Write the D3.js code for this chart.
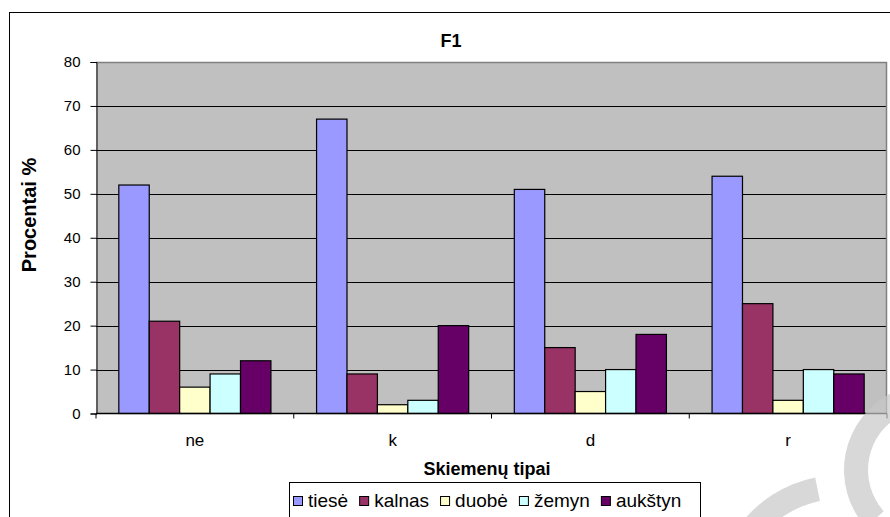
<!DOCTYPE html>
<html>
<head>
<meta charset="utf-8">
<script src="https://cdn.jsdelivr.net/npm/d3@7"></script>
<style>
  html, body { margin: 0; padding: 0; background: #fff; }
  svg { display: block; font-family: "Liberation Sans", Arial, sans-serif; }
</style>
</head>
<body>
<svg id="chart" width="890" height="517"></svg>
<script>
// Syllable types (categories) and series
const categories = ["ne", "k", "d", "r"];
const seriesNames = ["tiesė", "kalnas", "duobė", "žemyn", "aukštyn"];
const tiese   = [52, 67, 51, 54];
const kalnas  = [21, 9, 15, 25];
const duobe   = [6, 2, 5, 3];
const zemyn   = [9, 3, 10, 10];
const aukstyn = [12, 20, 18, 9];
const yTicks  = [0, 10, 20, 30, 40, 50, 60, 70, 80];
const colors  = ["#9999FF", "#993366", "#FFFFCC", "#CCFFFF", "#660066"];

const seriesValues = [tiese, kalnas, duobe, zemyn, aukstyn];
const rows = categories.map((c, i) => ({
  cat: c,
  vals: seriesNames.map((s, j) => ({ key: s, value: seriesValues[j][i] }))
}));

const svg = d3.select("#chart");

// outer chart frame
svg.append("rect")
  .attr("x", 9.5).attr("y", 12.5)
  .attr("width", 900).attr("height", 540)
  .attr("fill", "#fff").attr("stroke", "#000").attr("stroke-width", 1);

const plot = { left: 96, right: 887, top: 62, bottom: 413.5 };

const x = d3.scaleBand().domain(categories).range([plot.left, plot.right]).padding(0);
const xs = d3.scaleBand().domain(seriesNames).range([0, x.bandwidth()])
  .paddingInner(0).paddingOuter(0.75);
const y = d3.scaleLinear().domain([0, 80]).range([plot.bottom, plot.top]);
const color = d3.scaleOrdinal().domain(seriesNames).range(colors);

// plot background
svg.append("rect")
  .attr("x", plot.left).attr("y", plot.top)
  .attr("width", plot.right - plot.left).attr("height", plot.bottom - plot.top)
  .attr("fill", "#C0C0C0");

// gridlines
svg.append("g")
  .selectAll("line")
  .data(yTicks.filter(t => t > 0 && t < 80))
  .join("line")
  .attr("x1", plot.left).attr("x2", plot.right)
  .attr("y1", d => Math.round(y(d)) + 0.5).attr("y2", d => Math.round(y(d)) + 0.5)
  .attr("stroke", "#000").attr("stroke-width", 1);

// grey top and right edges of the plot area
svg.append("path")
  .attr("d", `M${plot.left},${plot.top + 0.5}H${plot.right - 0.5}V${plot.bottom}`)
  .attr("fill", "none").attr("stroke", "#808080").attr("stroke-width", 1.5);

// bars
svg.append("g")
  .selectAll("g")
  .data(rows)
  .join("g")
  .attr("transform", d => `translate(${x(d.cat)},0)`)
  .selectAll("rect")
  .data(d => d.vals)
  .join("rect")
  .attr("x", d => xs(d.key))
  .attr("y", d => y(d.value))
  .attr("width", xs.bandwidth())
  .attr("height", d => y(0) - y(d.value))
  .attr("fill", d => color(d.key))
  .attr("stroke", "#000").attr("stroke-width", 1.2);

// y axis
const yAxis = svg.append("g")
  .attr("transform", `translate(${plot.left + 0.5},0)`)
  .call(d3.axisLeft(y).tickValues(yTicks).tickSize(6).tickPadding(10));
yAxis.select(".domain").attr("stroke", "#000");
yAxis.selectAll("text")
  .attr("font-size", 15).attr("fill", "#000")
  .attr("font-family", "Liberation Sans, Arial, sans-serif");

// x axis with ticks at category boundaries
const xAxis = svg.append("g").attr("transform", `translate(0,${plot.bottom})`);
xAxis.append("line")
  .attr("x1", plot.left).attr("x2", plot.right)
  .attr("stroke", "#000").attr("stroke-width", 1.5);
const bounds = categories.map(c => x(c)).concat([plot.right]);
xAxis.selectAll("line.tick")
  .data(bounds)
  .join("line")
  .attr("class", "tick")
  .attr("x1", d => d).attr("x2", d => d)
  .attr("y1", 0).attr("y2", 5)
  .attr("stroke", "#000");
xAxis.selectAll("text")
  .data(categories)
  .join("text")
  .attr("x", d => x(d) + x.bandwidth() / 2)
  .attr("y", 32)
  .attr("text-anchor", "middle")
  .attr("font-size", 17)
  .text(d => d);

// titles
svg.append("text")
  .attr("x", 451).attr("y", 47)
  .attr("text-anchor", "middle")
  .attr("font-size", 18).attr("font-weight", "bold")
  .text("F1");

svg.append("text")
  .attr("x", 487).attr("y", 475)
  .attr("text-anchor", "middle")
  .attr("font-size", 18).attr("font-weight", "bold")
  .text("Skiemenų tipai");

svg.append("text")
  .attr("transform", "translate(36,215) rotate(-90)")
  .attr("text-anchor", "middle")
  .attr("font-size", 20).attr("font-weight", "bold")
  .text("Procentai %");

// legend
const legend = svg.append("g");
legend.append("rect")
  .attr("x", 289.5).attr("y", 482.5)
  .attr("width", 411).attr("height", 60)
  .attr("fill", "#fff").attr("stroke", "#000");

let lx = 293;
seriesNames.forEach((s, i) => {
  legend.append("rect")
    .attr("x", lx + 0.5).attr("y", 496.5)
    .attr("width", 9).attr("height", 9)
    .attr("fill", color(s)).attr("stroke", "#000");
  const t = legend.append("text")
    .attr("x", lx + 15).attr("y", 506.5)
    .attr("font-size", 19)
    .text(s);
  lx += 15 + t.node().getComputedTextLength() + 11;
});

// light grey mark in the lower right corner
const mark = svg.append("g")
  .attr("fill", "#c8c8c8").attr("fill-opacity", 0.7);
mark.append("path")
  .attr("d", d3.arc()({ innerRadius: 62, outerRadius: 86, startAngle: -0.45, endAngle: -2.3 }))
  .attr("transform", "translate(930,470)");
mark.append("path")
  .attr("d", d3.arc()({ innerRadius: 101, outerRadius: 125, startAngle: -0.2, endAngle: -1.7 }))
  .attr("transform", "translate(840,600)");
</script>
</body>
</html>
